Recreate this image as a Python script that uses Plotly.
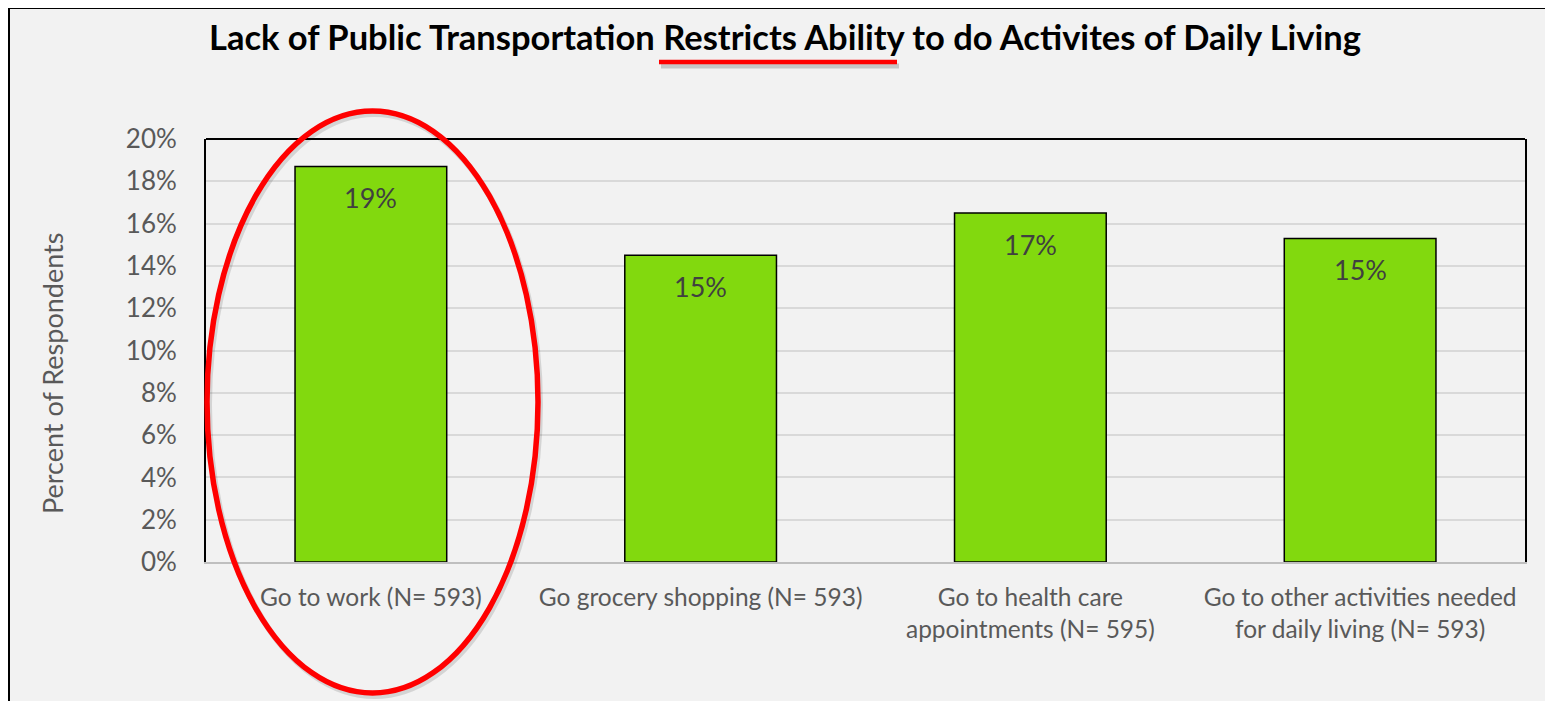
import plotly.graph_objects as go

# data
categories = [
    "Go to work (N= 593)",
    "Go grocery shopping (N= 593)",
    "Go to health care<br>appointments (N= 595)",
    "Go to other activities needed<br>for daily living (N= 593)",
]
values = [18.7, 14.5, 16.5, 15.3]
value_labels = ["19%", "15%", "17%", "15%"]
y_ticks = [0, 2, 4, 6, 8, 10, 12, 14, 16, 18, 20]
y_tick_labels = [f"{t}%" for t in y_ticks]

W, H = 1553, 701
OFF = 8  # page body margin, the figure sits 8px in from the window corner
ML, MT = 206 - OFF, 139 - OFF
PW, PH = 1319, 423
MR, MB = W - ML - PW, H - MT - PH


def px(x):
    """screen pixel x -> paper x"""
    return (x - OFF - ML) / PW


def py(y):
    """screen pixel y -> paper y"""
    return (MT + PH - (y - OFF)) / PH


FONT = "Lato"
BG = "#f2f2f2"
GREEN = "#82d90e"

fig = go.Figure()
fig.add_trace(
    go.Bar(
        x=categories,
        y=values,
        width=0.46,
        marker=dict(color=GREEN, line=dict(color="black", width=1.5)),
        hoverinfo="skip",
    )
)

# value labels inside bar tops
for cat, val, lab in zip(categories, values, value_labels):
    fig.add_annotation(
        x=cat, y=val, text=lab, showarrow=False, yshift=-31,
        font=dict(family=FONT, size=27, color="#404040"),
    )

# y axis title, sits a bit below the plot centre in the original
fig.add_annotation(
    xref="paper", yref="paper", x=px(52), y=py(374), text="Percent of Respondents",
    textangle=-90, showarrow=False, xanchor="center", yanchor="middle",
    font=dict(family=FONT, size=27, color="#595959"),
)

shapes = [
    # top border of plot area
    dict(type="line", xref="paper", yref="paper", x0=0, x1=1, y0=1, y1=1,
         line=dict(color="black", width=2)),
    # outer frame
    dict(type="rect", xref="paper", yref="paper", x0=px(9), x1=px(1600), y0=py(8), y1=py(760),
         line=dict(color="black", width=2)),
    # underline shadow + red underline
    dict(type="line", xref="paper", yref="paper", x0=px(661), x1=px(899), y0=py(66), y1=py(66),
         line=dict(color="rgba(0,0,0,0.18)", width=5)),
    dict(type="line", xref="paper", yref="paper", x0=px(659), x1=px(897), y0=py(62), y1=py(62),
         line=dict(color="#ff0000", width=4.5)),
    # ellipse shadow + red ellipse around first bar
    dict(type="circle", xref="paper", yref="paper", x0=px(209), x1=px(540), y0=py(114), y1=py(696),
         line=dict(color="rgba(0,0,0,0.12)", width=6)),
    dict(type="circle", xref="paper", yref="paper", x0=px(207), x1=px(538), y0=py(111), y1=py(693),
         line=dict(color="#ff0000", width=5.5)),
]

fig.update_layout(
    width=W,
    height=H,
    margin=dict(l=ML, r=MR, t=MT, b=MB),
    paper_bgcolor=BG,
    plot_bgcolor=BG,
    showlegend=False,
    bargap=0.54,
    title=dict(
        text="<b>Lack of Public Transportation Restricts Ability to do Activites of Daily Living</b>",
        x=(785 - OFF) / W, xanchor="center", y=1 - (38 - OFF) / H, yanchor="middle",
        font=dict(family=FONT, size=34.5, color="black"),
    ),
    shapes=shapes,
    xaxis=dict(
        showgrid=False,
        showline=True, linecolor="#bfbfbf", linewidth=2,
        ticks="", ticklabelstandoff=13,
        tickfont=dict(family=FONT, size=24.5, color="#595959"),
    ),
    yaxis=dict(
        range=[0, 20],
        tickvals=y_ticks,
        ticktext=y_tick_labels,
        showgrid=True, gridcolor="#d9d9d9", gridwidth=2,
        showline=True, linecolor="black", linewidth=2, mirror=True,
        zeroline=False,
        ticks="", ticklabelstandoff=22,
        tickfont=dict(family=FONT, size=26, color="#595959"),
    ),
)

fig.write_html("out.html")
